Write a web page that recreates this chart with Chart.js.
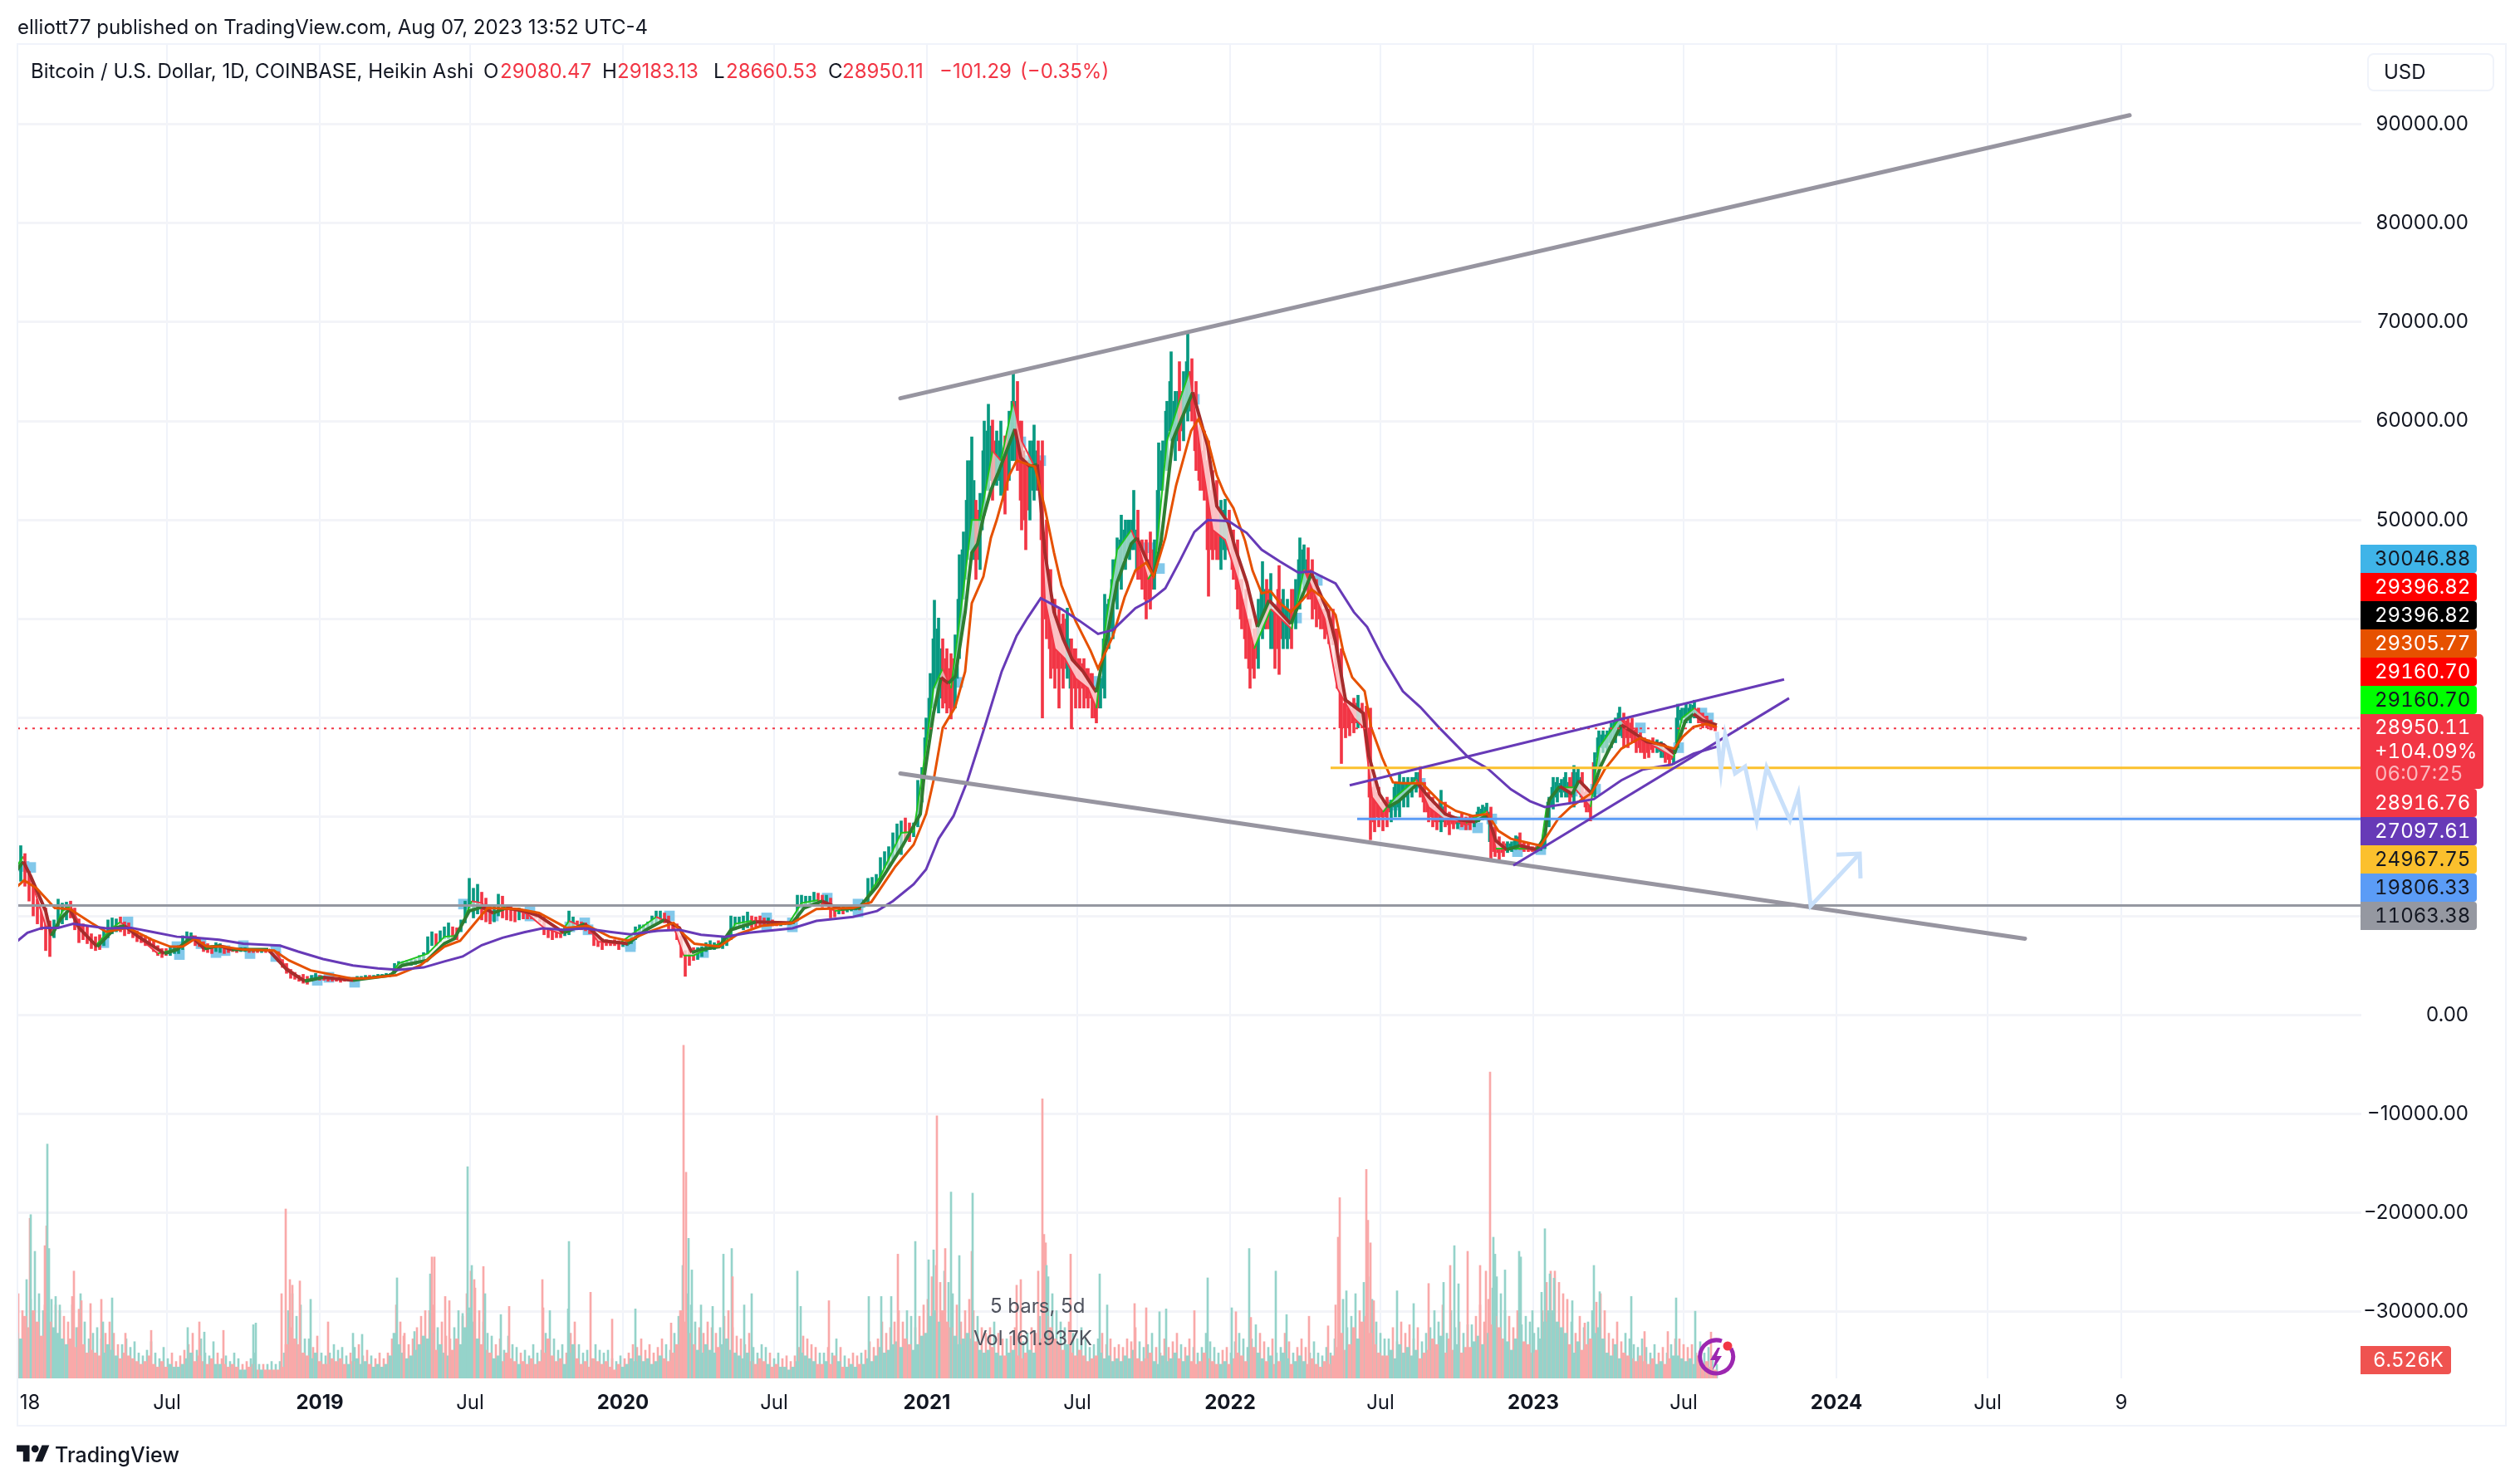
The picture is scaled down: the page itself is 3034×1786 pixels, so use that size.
<!DOCTYPE html>
<html>
<head>
<meta charset="utf-8">
<title>BTCUSD</title>
<script src="https://cdn.jsdelivr.net/npm/chart.js@4"></script>
<style>
  html, body { margin: 0; padding: 0; background: #fff; width: 3034px; height: 1786px; overflow: hidden; }
  body { font-family: Inter, "Noto Sans", sans-serif; color: #131722; position: relative; }
  canvas { position: absolute; left: 0; top: 0; }
  .txt { position: absolute; white-space: nowrap; font-size: 24px; line-height: 30px; }
  .red { color: #f23645; }
  .tag { position: absolute; left: 2842px; width: 140px; height: 34px; line-height: 34px; font-size: 24px; border-radius: 0 4px 4px 0; font-variant-numeric: tabular-nums; }
  .tag span, .big span { position: absolute; left: 17px; }
  #frame { position: absolute; left: 20px; top: 52px; width: 2994px; height: 1662px; border: 2px solid #f0f3fa; }
  #usd { position: absolute; left: 2850px; top: 64px; width: 149px; height: 42px; border: 2px solid #f0f3fa; border-radius: 8px; line-height: 42px; font-size: 24px; }
  #usd span { position: absolute; left: 18px; }
  .big { position: absolute; left: 2842px; top: 860px; width: 148px; height: 90px; background: #f23645; color: #fff; border-radius: 0 5px 5px 0; font-size: 24px; font-variant-numeric: tabular-nums; }
  .big span { line-height: 28px; }
</style>
</head>
<body>
<canvas id="chart" width="3034" height="1786"></canvas>
<div id="frame"></div>
<div id="usd"><span>USD</span></div>
<div id="overlay"></div>
<svg style="position:absolute;left:2040px;top:1608px" width="54" height="54" viewBox="0 0 54 54">
  <path d="M33 7 A20 20 0 1 0 44 16" fill="none" stroke="#9c27b0" stroke-width="5"/>
  <path d="M28 15 L19 30 H25 L22 42 L33 25 H27 L31 15 Z" fill="#9c27b0"/>
  <circle cx="40" cy="13" r="5.5" fill="#f23645"/>
</svg>
<svg style="position:absolute;left:20px;top:1736px" width="40" height="31" viewBox="0 0 36 28">
  <path d="M14 22H7V11H0V4h14v18zM28 22h-8l7.5-18h8L28 22z" fill="#131722"/><circle cx="20" cy="8" r="4" fill="#131722"/>
</svg>
<script>
// candles, one every 5 days (10 per row = 50 days), thousands of USD
const candleLow = [
  12.8,13.5,13,11.5,10,9.2,8.6,6.5,5.9,7.8,
  8.8,9.2,9.6,9.8,8.6,7.3,7.6,7.2,6.7,6.5,
  6.6,7,7.8,8.2,8.4,8.4,8,8.2,7.8,7.4,
  7.3,7,7.1,6.4,6,5.8,6,6,6.2,6.2,
  6.6,7.2,7.4,7,6.9,6.4,6.3,6.2,6.4,6.3,
  6.2,6.3,6.4,6.3,6.4,6.4,6.3,6.3,6.3,6.3,
  6.3,6.3,6.2,5.4,4.8,4.2,3.7,3.6,3.4,3.2,
  3.1,3.4,3.6,3.5,3.5,3.4,3.4,3.4,3.3,3.4,
  3.4,3.4,3.6,3.7,3.8,3.8,3.8,3.9,3.9,3.9,
  4,4.2,4.8,4.9,5,5,5.1,5.3,5.6,6.2,
  7,7,7.4,7.7,7.7,7.6,7.6,8.4,9.3,10.5,
  9.8,10.2,9.6,9.4,9.2,9.4,10,9.8,9.6,9.5,
  9.4,9.6,9.7,9.7,9.7,9.8,9.4,8.1,7.8,7.6,
  7.8,7.8,8,8.1,8.8,8.7,8.6,8.5,8.2,7,
  6.9,6.6,7,7,7,6.6,6.9,7,7.2,7.6,
  8.1,8.3,8.6,9,9.3,9.5,9.3,8.7,8.5,7.6,
  5.8,3.9,5,5.5,5.6,5.9,6.4,6.6,6.6,6.8,
  6.7,7,7.6,8.6,8.8,8.6,8.8,8.8,8.9,9,
  9,9.1,9,9,9,9.1,9.1,9.2,9.5,10.8,
  10.9,11,11.2,11.1,10.9,11,9.8,9.9,10.2,10.2,
  10.4,10.5,10.6,10.6,10.9,11.3,12.6,13,13.6,14.8,
  15,15.5,16.3,16.2,17.6,17.5,18,19,21.5,26,
  29,33,30.5,31,30.5,29.9,31,36,42,46,
  46,44,45,50.5,53,52,53.5,52.5,50.6,54,
  56,55,49,47,50,52,53,30,38,34,
  33,31,33,34,28.9,31,31,31,31,30,
  29.5,31,32,37,38,41,43,45,46,47,
  44,43,40,41,43,47,53,55,58,56,
  57,58,60,60,55,53,52,42.3,46,46,
  45,46,47,44,41,39,36,33,34,35,
  38,39,37,35,34.4,37,37,37,39,41,
  43,42,40,39.2,39,38,37.5,37.4,33,25.4,
  28,28.2,28.5,29,29,28,17.7,18.5,19,18.6,
  19,19.5,20,20,21,21,22,22.5,22,20.5,
  19.5,19,18.7,18.5,19,18.2,18.8,18.8,19,18.7,
  18.7,19,19.5,19.7,19.8,15.8,16,15.7,16,16.4,
  16.5,16.7,16.7,16.5,16.5,16.5,16.5,16.6,16.8,19,
  20.8,21.5,22,22,21.5,21,22.5,21.5,20.5,19.6,
  22,25,26.5,26.5,27,27.5,28.2,27,27,27.5,
  26.5,26.5,25.9,26,26.5,26.5,26,25.5,25.3,25.3,
  27,29.5,29.5,29.5,30,29.5,29,29,28.8,28.7
]
const candleHigh = [
  15.2,17.1,16.3,14.5,13.2,11.7,11,10.8,9.5,9.6,
  11.7,11.3,11.4,11.5,10.8,9.7,9.2,8.9,8.2,7.9,
  8.1,8.6,9.6,9.8,9.7,9.9,9.4,9.3,8.8,8.5,
  8.1,8,7.8,7.5,7,6.7,6.7,6.8,6.9,7,
  8,8.4,8.3,8,7.8,7.4,7.2,7,7.3,7.2,
  7,6.9,6.8,6.7,6.8,6.8,6.7,6.6,6.7,6.6,
  6.6,6.6,6.5,6.4,5.6,5.2,4.6,4.3,4,4.1,
  3.9,4,4.2,4,3.9,3.8,3.7,3.7,3.6,3.6,
  3.8,3.7,3.9,3.9,4,4,4,4.1,4.1,4.2,
  4.2,5.2,5.4,5.4,5.5,5.6,5.6,6,6.3,7.9,
  8.4,8.2,8.5,8.9,9.3,8.9,8.8,9.6,11.5,13.8,
  12.8,13.2,12.4,11.8,10.9,11,12.2,12,10.8,10.9,
  10.6,10.8,10.5,10.4,10.3,10.3,10.3,9.9,8.7,8.5,
  8.6,8.5,8.9,10.5,9.9,9.5,9.4,9.3,8.8,8.5,
  7.9,7.7,7.6,7.5,7.6,7.5,7.4,7.7,8.1,8.9,
  9.1,9.1,9.4,10,10.5,10.5,10.3,10,9.2,9.2,
  8,6.5,6.6,6.8,6.8,6.9,7.3,7.5,7.3,7.5,
  7.9,8,10,9.9,9.9,10,10.4,10,9.9,10,
  9.8,9.8,9.6,9.4,9.4,9.4,9.4,9.6,12.1,12.1,
  12,12,12.4,12.3,12.1,12.1,11.8,10.9,10.9,10.9,
  10.8,11.1,11,11,11.6,13.8,13.9,14.2,15.9,16.5,
  17,18.4,19.3,19.6,19.9,19.4,19.4,23.7,25,30,
  34.5,41.9,40.1,38,37,36.5,38.4,46.5,48.8,56,
  58.4,52,52.7,60,61.7,60.1,59,60,58.5,61,
  64.9,64,60,56,58,59.6,58,58,50,45,
  42,41,40.5,41.1,38,37,36,36,35,34.5,
  33,34,42.5,42,46,48.2,50.5,50,50,53,
  51,48,48,48.8,48,57.8,58,62,67,63,
  66,65,69,66.3,64,60,59,58,55,54,
  52,52.1,51,49,48,44,43,40,39,42,
  45.8,44,44.6,41,45.4,43,42,43,44,48.2,
  47.5,47.2,46,44,42,41,41,41,39,37,
  32,31.5,32,32.3,31.5,31.2,31,24,23,21.7,
  22,21.7,23.5,24.5,24,24,24,24.5,25.1,23.5,
  22.5,22,21,22.7,21.5,20.5,20,20,20.3,20,
  20.2,20,21,21.2,21.4,21,19,18,17.5,17.5,
  17.5,18.1,18.4,17.5,17.3,17,17,17.2,19,22,
  24,24,23.8,24.5,24,25.2,25,24.5,23,22.5,
  26.5,28.7,28.7,28.7,29.5,30,31.1,30.5,30,30,
  29,28.5,28,27.8,28,27.8,27.6,27,27,27,
  31.4,31,31.4,31.4,31.8,31,30.5,30.2,29.8,29.2
]
const candleUp = [
  1,1,0,0,0,0,0,0,0,1, 1,1,1,0,0,0,0,0,0,0, 0,1,1,1,1,0,0,0,0,0, 0,0,0,0,0,0,0,1,1,1,
  1,1,1,0,0,0,0,0,1,1, 0,0,0,0,1,1,0,0,0,1, 0,0,0,0,0,0,0,0,0,0, 0,1,1,0,0,0,0,0,0,0,
  1,0,1,1,1,0,1,1,1,1, 1,1,1,1,1,1,1,1,1,1, 1,0,1,1,1,0,0,1,1,1, 1,1,0,0,0,1,1,0,0,0,
  0,1,0,0,0,0,0,0,0,0, 0,0,1,1,1,0,0,0,0,0, 0,0,0,0,0,0,1,1,1,1, 1,1,1,1,1,1,0,0,0,0,
  0,0,0,0,1,1,1,1,1,0, 1,1,1,1,1,1,1,0,0,0, 0,1,0,0,1,1,1,1,1,1, 1,1,1,0,0,1,0,0,1,0,
  1,1,1,0,1,1,1,1,1,1, 1,1,1,1,0,0,1,1,1,1, 1,1,1,0,0,0,1,1,1,1, 1,0,1,1,1,0,1,1,0,1,
  1,0,0,0,1,1,0,0,0,0, 0,0,0,1,0,0,0,0,0,0, 0,1,1,1,1,1,1,1,1,1, 0,0,0,0,1,1,1,1,1,1,
  0,1,1,0,0,0,0,0,0,0, 1,1,0,0,0,0,0,0,0,1, 1,0,1,0,0,1,1,0,1,1, 1,0,0,0,0,0,0,0,0,0,
  0,0,0,1,0,0,0,0,0,0, 0,1,1,1,1,1,1,1,0,0, 0,0,0,1,0,0,0,1,0,0, 0,1,1,1,1,0,0,0,0,1,
  1,1,0,0,0,0,0,1,1,1, 1,1,1,1,0,1,1,0,0,0, 1,1,1,1,1,1,1,0,0,0, 0,0,0,0,0,1,1,0,0,1,
  1,1,1,1,1,0,0,0,0,0
]
// in-between candles from 2021 on, where the bars stand solid: day 1093, 1098, ...
const denseLow = [
  24,28,31,32,32,31.5,31,31,34,39, 44,47,46,46,49,53,54,54,54,52,
  53,56,56,52,50,51,53,53,48,40, 37,35,35,35,35,33,33,33,33,32,
  32,30,31,33,38,39,42,44,46,47, 47,45,44,42,42,43,47,53,56,59,
  58,58,59,61,61,57,54,53,47,47, 47,46,47,47,45,43,40,38,35,35,
  36,39,39,39,37,37,38,38,38,40, 42,44,43,42,41,40,39,38.5,38,35,
  29,29,29,29.5,29.5,29.5,29,22,19.5,20, 20,20,20.5,21,21,22,22,22.5,23,23,
  21.5,20.5,20,19.5,19.5,19.5,19.2,19.3,19.3,19.3, 19.2,19.2,19.5,19.7,20,20,17.5,16.5,16.4,16.4,
  16.6,16.8,16.8,17,16.7,16.7,16.6,16.6,16.7,16.9, 19.5,21,22,22.5,22.5,22,22,23,22,21,
  20.5,23,26,27,27,27.5,28,28.5,28,28, 28,27.5,27,26.5,26.5,26.8,27,26.6,26,25.8,
  25.8,27.5,29.8,30,30,30.3,30,29.5,29.3,29.1, 29
]
const denseHigh = [
  28,32,38,39,37,36,35,36,42,47, 52,56,54,51,57,59,59.5,58,58,57,
  59,62,62,60,57,56,58,57,56,48, 45,42,40,39.5,40,38,37,36,35.5,35,
  34.5,33,34,38,41.5,44,46,48,49,50, 50,49,47,46,46,47,53,57,61,64,
  62,63,63,66,65,62,59,57,56,53, 52,51,51,50,48,47,44,42,40,38,
  40,43,43,43,41,43,42,41,41,43, 46,47,46,45,44,42,41,40.5,40,39,
  35,31.5,31,31,31.5,31,30.5,29,23,22.5, 21.5,21.5,21.5,23,23.5,23.5,23.5,23.5,24,24.5,
  23,22,21.5,21,21.5,21,20.3,20,20,20, 19.9,19.9,20,20.5,20.8,21,20.5,18.5,17.5,17.2,
  17.3,17.3,17.6,18,17.3,17.1,16.9,16.9,17,18.2, 21.5,23,23.5,23.4,24,23.5,24.5,24.5,24,22.5,
  22,25.5,28,28.3,28.3,29,29.6,30.5,30,29.7, 29.5,28.8,28.2,27.8,27.6,27.7,27.6,27.4,26.9,26.8,
  26.7,30,30.8,31,31,31.3,30.8,30.3,30,29.6, 29.3
]
// volume (thousand BTC), same 5 day rows
const volumeBase = [
  16,14,22,18,24,20,15,26,20,18, 16,14,12,14,11,18,12,9,10,9, 8,9,12,10,8,7,9,8,7,6, 5,6,8,5,4,6,4,5,4,4,
  5,7,9,6,8,6,5,7,5,5, 5,4,5,4,3,3,4,5,3,3, 3,3,3,3,4,12,18,14,12,9, 8,7,9,6,5,5,7,6,7,5,
  5,6,7,5,6,5,4,5,4,5, 8,16,12,9,7,8,10,12,15,14, 16,10,12,9,8,10,14,12,18,25, 20,14,12,10,9,7,8,6,9,7,
  6,5,6,5,7,5,6,9,14,8, 6,7,5,9,12,7,5,6,4,7, 6,5,6,4,3,5,4,5,7,6, 8,6,7,5,6,8,7,6,9,12,
  24,20,16,12,10,9,12,10,9,11, 12,14,10,9,8,7,9,6,5,7, 6,5,4,5,4,4,3,4,6,9, 8,7,6,5,5,6,5,8,6,4,
  4,5,4,5,5,7,6,8,11,9, 10,12,13,11,14,12,10,12,15,16, 22,24,20,24,20,18,15,12,14,16, 14,13,10,9,10,11,9,8,8,9,
  10,8,7,9,10,9,12,14,22,18, 14,12,10,12,9,8,10,8,6,7, 8,9,7,8,6,7,6,8,7,10, 7,6,7,9,6,5,8,6,7,9,
  7,6,8,6,5,6,9,7,6,5, 5,6,5,7,9,8,6,8,11,9, 7,6,8,5,6,9,7,5,6,8, 6,5,7,5,4,6,5,8,11,16,
  10,12,18,14,20,22,16,12,9,8, 8,10,7,12,9,11,8,10,7,9, 10,14,12,15,9,14,10,12,9,11, 11,13,15,12,16,19,22,18,14,13,
  10,14,11,13,12,9,10,14,20,24, 24,20,18,16,12,9,13,10,12,14, 16,18,14,9,8,12,7,9,8,7, 6,8,6,5,7,5,6,5,7,8,
  8,7,6,7,5,8,5,6,4,3
]
// taller thin bars that stand between the base ones, day 2, 7, 12, ...
const volumeMid = [
  30,24,35,28,45,30,24,38,28,26, 24,22,20,26,18,30,20,14,16,18, 14,16,20,16,12,12,14,11,13,9, 8,10,13,9,7,11,7,9,6,8,
  10,12,16,10,14,9,8,13,9,7, 8,6,9,7,5,6,7,9,5,5, 5,6,5,6,9,24,30,22,26,14, 14,11,15,9,8,9,12,10,11,8,
  9,11,12,8,10,8,7,9,7,9, 14,26,20,16,12,14,18,22,24,24, 26,18,20,15,14,18,24,22,30,38, 32,24,20,16,15,12,14,10,15,12,
  11,9,10,8,12,9,10,16,24,14, 10,12,9,16,20,12,9,10,7,12, 10,9,10,7,6,8,7,9,12,11, 14,10,12,9,11,14,12,10,16,22,
  40,30,26,20,18,16,20,18,16,18, 22,24,18,15,14,12,16,11,9,12, 11,9,7,9,7,8,6,8,11,15, 14,12,11,9,9,11,9,14,11,8,
  7,9,8,9,10,13,11,14,20,16, 18,20,24,20,24,22,18,22,26,28, 36,40,34,38,34,30,26,20,24,28, 24,22,18,16,18,20,16,14,14,15,
  18,14,13,16,18,16,22,25,36,30, 24,20,18,20,16,14,18,14,11,12, 14,16,12,14,11,12,11,14,13,18, 13,11,12,16,11,9,14,11,13,16,
  12,11,14,11,9,11,16,13,11,9, 10,11,9,13,16,14,11,14,19,16, 13,11,14,9,11,16,13,9,11,14, 11,9,13,9,8,11,9,14,20,28,
  18,22,30,24,34,36,28,20,16,14, 14,18,13,20,16,19,14,18,13,16, 18,24,20,26,16,24,18,20,16,19, 19,22,26,20,28,32,36,30,24,22,
  18,24,19,22,20,16,18,24,34,38, 38,34,30,28,20,16,22,18,20,24, 27,30,24,16,14,20,13,16,14,12, 11,14,11,9,12,9,11,9,12,14,
  14,12,11,12,9,13,9,11,8,5
]
const spikeDays = [16,17,34,36,37,39,47,52,67,69,75,78,89,102,104,115,131,162,206,220,226,249,285,288,319,324,329,332,341,354,375,405,416,458,466,479,498,500,503,516,521,537,543,548,551,562,564,583,593,633,634,664,665,691,717,745,788,803,806,809,813,824,838,851,861,862,876,885,940,944,978,1026,1041,1053,1061,1082,1098,1104,1108,1118,1125,1135,1150,1151,1204,1209,1230,1235,1237,1239,1240,1269,1304,1313,1346,1360,1376,1384,1418,1434,1463,1468,1484,1486,1516,1529,1556,1579,1588,1591,1593,1601,1625,1627,1630,1634,1662,1682,1700,1718,1726,1731,1736,1747,1762,1769,1774,1778,1780,1792,1809,1811,1825,1836,1840,1846,1851,1873,1888,1899,1906,1944,1960,1988,1998,2021,2040]
const spikeVols = [56.7,58,47,54,83,46,29,26,29,38,24.5,27.5,26.5,28,20,28.5,16,17,18,20,16.4,17,19,19.6,30,60,35,33,34.5,28,20,16,15.6,35.6,15,16.6,37,43,43,29,27.5,23,75,40,35,39.6,30,22.6,25.5,35,25,24.6,48.5,30.5,21,24.6,19.6,118,73,49.6,38.4,26,25.5,44,46,36,26,30,38,25.5,27.5,29,29,29,44,48.5,42,45.5,93,46,66,43.5,45,65.6,33,35,38,99,51,48,40,44,37,26,26.5,25,23.6,24.6,24,35.6,25,23.6,46,21.6,38,22.6,22,18.6,26,50,64,31,74,56,48,27.5,31,26.5,33.6,34,40,47,33.5,45,40,38,108.5,50,44,38.4,45,43,24,30.5,53,37,35.5,27.5,19.6,40,30.7,29,16.6,16.6,28.5,23.8,16.4]
const spikeUp = [0,1,0,0,1,1,1,1,0,0,0,0,0,0,1,1,0,0,1,0,1,0,1,1,0,0,0,0,0,1,0,1,1,1,0,1,1,0,0,0,0,1,1,1,0,0,1,1,0,0,0,1,1,0,0,1,0,0,0,1,1,1,1,1,1,0,1,1,1,1,0,1,1,1,0,1,1,1,0,0,1,1,0,1,0,0,0,0,0,0,1,0,1,1,0,0,1,1,0,1,1,0,1,0,1,1,0,0,0,0,0,1,0,0,0,0,1,1,0,1,0,1,1,0,0,0,0,1,1,1,1,1,1,1,1,1,1,1,0,1,1,1,0,0,1,1,0]

// fast moving average (thick, green rising / brown falling)
const thickDays = [0,8,17,35,42,53,64,75,97,119,130,145,178,193,211,226,244,259,303,325,347,369,405,450,464,494,515,527,545,560,574,589,611,629,659,684,706,736,758,780,798,813,824,846,860,890,934,948,970,992,1014,1036,1066,1088,1092,1104,1113,1122,1130,1142,1150,1157,1164,1173,1182,1202,1209,1220,1229,1238,1249,1260,1271,1284,1300,1313,1325,1342,1349,1369,1378,1392,1407,1416,1434,1445,1459,1467,1481,1494,1508,1521,1534,1559,1579,1588,1600,1621,1628,1641,1651,1664,1687,1697,1720,1738,1756,1771,1781,1794,1810,1830,1840,1845,1858,1873,1881,1896,1907,1917,1932,1947,1963,1983,1996,2009,2019,2029,2047]
const thickVals = [14.6,15.5,14,10.5,8,9.7,10.7,8.8,6.9,8.8,9,8,6.2,6.6,7.9,6.7,7,6.6,6.6,4.6,3.4,3.8,3.5,4,5,5.5,7.2,7.7,10.5,10.9,10.3,10.8,10.5,10,8.3,9.2,7.5,7.2,8.6,9.6,8.8,6.3,6.6,6.9,8.6,9.4,9.3,10.8,11.5,10.7,10.8,13,17,20.3,23.7,30.5,34.1,33.5,34.2,40.7,46.7,47.6,50.3,53,54.8,59.2,56.3,55.4,55.6,46.7,40.7,38,35.9,34.7,32.6,38.3,43.7,47.6,48.2,44.3,47.9,58.1,61.1,62.9,57.5,51.4,49.7,47.2,43.7,39.2,41.9,40.7,39.5,44.6,40.7,37.7,31.8,30.5,26.2,22.3,21,21.6,23.4,22.3,20.3,19.7,19.5,20.2,17.6,16.7,17.1,16.7,18,21.7,23.1,22.3,23.7,22.4,25.1,26.8,29.3,28.5,27.6,27.3,26.4,29.7,30.4,29.8,29.3]
// faster thin line, ribbon to the thick one
const fastDays = [0,8,20,35,45,55,65,80,95,115,125,140,170,195,212,225,244,260,310,325,345,370,405,450,460,495,515,530,548,560,574,589,615,635,655,665,690,700,725,745,770,790,803,815,840,855,865,885,930,945,965,985,1015,1040,1065,1080,1090,1104,1115,1125,1140,1150,1160,1175,1185,1200,1210,1222,1232,1238,1250,1262,1275,1290,1300,1312,1325,1342,1352,1362,1370,1385,1400,1412,1425,1440,1455,1470,1490,1510,1535,1550,1560,1575,1590,1610,1622,1632,1645,1660,1685,1700,1720,1745,1770,1781,1800,1835,1842,1855,1875,1895,1905,1930,1950,1975,1995,2005,2020,2047]
const fastVals = [15,16,13,9,8.5,10.5,11,8.5,7,8.8,9.4,8.3,6.2,6.7,8,6.9,7,6.6,6.5,4.8,3.5,3.8,3.5,4,5.2,6.2,7.9,8,11.5,11.3,10.2,11,10.2,8.8,8.2,9.5,8.6,7.4,7.2,8.4,9.9,9.2,6,6,7,7.5,9.2,9.5,9.3,11.3,11.6,10.5,10.8,14,18.4,18.5,24,33,35,33,43,50,50,57,56,62,58,56,54,42,37,36,34,33,31,40,47,49,47,44,45,58,62,65,57,49,48,44,37,41,39,45,43,40,33,30,29,22,20.5,22,23.8,21,19.7,19.4,20.6,16.8,16.8,16.8,21,23,23,21,27,30,28,27,26,30,31,29]
// orange average
const orangeDays = [0,9,24,46,64,90,108,134,163,185,200,215,229,248,273,310,328,354,402,420,457,486,515,534,549,567,604,629,662,688,714,736,758,791,805,816,846,868,897,934,963,1007,1029,1058,1080,1095,1104,1115,1130,1142,1150,1164,1173,1180,1195,1204,1226,1238,1249,1258,1275,1293,1302,1320,1334,1347,1360,1369,1383,1396,1414,1423,1434,1445,1454,1465,1479,1488,1499,1510,1521,1534,1548,1559,1572,1588,1597,1608,1623,1631,1644,1657,1669,1692,1713,1733,1753,1771,1784,1799,1835,1845,1856,1871,1896,1912,1932,1955,1978,1996,2006,2019,2034,2047]
const orangeVals = [12.9,13.6,12.8,10.8,10.7,9.3,8.4,8.8,7.6,6.9,6.9,7.7,6.9,6.9,6.6,6.5,5.5,4.5,3.7,3.7,4,5,6.9,7.5,9,10.8,10.7,10.3,8.8,9,7.9,7.5,8.3,9.3,8,7.2,6.9,8.15,9,9.3,10.7,10.8,11.4,15,17.2,20.3,23.7,29,31.1,34.7,41.6,44.3,48.2,50,54.5,56,55.4,51.2,46.7,43.4,39.8,36.8,35,38.3,42.2,44.9,45.7,44.3,48.2,53.5,59,60.2,58.1,54.5,52.7,51.2,47.9,44.9,42.6,42.8,41.6,40.7,41.9,43,42.2,40.4,36.8,34.1,32.7,29,26,23.5,23.4,23.4,21.6,20.6,20.1,20.3,18.6,17.8,17.1,18.4,19.8,21,22.4,24.8,26.9,28,27.3,26.9,28.1,29.1,29.4,29.1]
// slow purple average
const purpleDays = [0,13,31,50,68,86,108,138,163,193,215,244,273,317,339,369,405,435,460,490,515,537,560,585,611,633,659,684,714,739,772,798,824,853,882,934,963,1007,1036,1055,1080,1095,1110,1128,1145,1164,1186,1204,1217,1233,1258,1280,1302,1320,1347,1365,1383,1400,1418,1434,1459,1481,1499,1521,1543,1559,1588,1610,1626,1646,1669,1690,1713,1748,1771,1799,1822,1840,1871,1899,1932,1958,1993,2019,2047]
const purpleVals = [7.4,8.3,8.8,8.8,9.2,9,8.75,8.8,8.4,7.9,7.8,7.6,7.2,7,6.4,5.65,5,4.7,4.55,4.8,5.4,5.9,7.05,7.8,8.35,8.75,8.6,8.75,8.4,8.15,8.5,8.6,8.1,7.9,8.3,8.75,9.5,9.9,10.5,11.5,13.2,14.7,17.8,20.1,23.7,28.7,34.7,38.3,40.1,42.1,41,39.8,38.5,38.9,41.1,41.9,43.1,45.8,48.8,50,49.9,48.7,47,45.8,44.7,44.8,43.6,40.7,39.2,35.9,32.7,31.1,29,26,24.9,22.8,21.6,21,21.4,21.8,23.7,24.8,25.3,26.4,27.1]
// light blue square markers
const squareDays = [9,17,105,134,193,196,222,240,251,273,281,312,312,362,376,407,538,574,618,618,666,684,688,739,739,786,827,903,903,934,934,976,1013,1013,1117,1133,1209,1220,1233,1302,1363,1376,1418,1503,1521,1541,1566,1657,1690,1715,1743,1759,1776,1807,1835,1873,1901,1955,2001,2029,2037]
const squareVals = [15,14.9,7.3,9.4,6.9,6.1,7.2,6.3,6.5,7,6.2,6.6,5.9,3.5,3.8,3.3,11.2,10,10.5,10,8.9,9.3,8.6,7.2,6.9,10,6.3,9.8,9.1,9.3,8.9,11.8,11.2,10.4,33.4,33.6,57.9,56,56,33.7,47.2,45.1,62.2,40.1,41,40.1,43.9,21.2,23.4,20.6,19.2,18.9,19.8,16.5,16.7,22.6,22.8,29,27,30.5,30]

// drawings
const upperChannelDays = [1064,2544], upperChannelVals = [62.3,90.9]
const lowerChannelDays = [1064,2418], lowerChannelVals = [24.4,7.7]
const wedgeTopDays = [1605,2128], wedgeTopVals = [23.2,33.9]
const wedgeBottomDays = [1802,2134], wedgeBottomVals = [15.1,32]
const forecastDays = [2047,2052,2057,2069,2081,2095,2107,2135,2145,2160,2219]
const forecastVals = [28.6,24.7,28.3,24.4,25.1,19.6,25,19.7,22.3,11,16.3]
const arrowHeadDays = [2191,2219,2220], arrowHeadVals = [16.2,16.3,13.8]
const yellowDays = [1582,2823], yellowVal = 24.96775
const blueDays = [1614,2823], blueVal = 19.80633
const greyDays = [1,2823], greyVal = 11.06338
const lastDays = [1,2823], lastVal = 28.95011

// axes
const priceTicks = [-30,-20,-10,0,10,20,30,40,50,60,70,80,90]
const timeTickDays = [16,181,365,546,730,912,1096,1277,1461,1642,1826,2007,2191,2373,2534]
const timeTickLabels = ['18','Jul','2019','Jul','2020','Jul','2021','Jul','2022','Jul','2023','Jul','2024','Jul','9']

// price scale tags
const tagLabels = ['30046.88','29396.82','29396.82','29305.77','29160.70','29160.70','28916.76','27097.61','24967.75','19806.33','11063.38']
const tagColors = ['#3fb4e8','#ff0000','#000000','#e65100','#ff0000','#00ff00','#f23645','#673ab7','#fbc02d','#5b9cf6','#9598a1']
const tagText = ['#131722','#fff','#fff','#fff','#fff','#131722','#fff','#fff','#131722','#131722','#131722']
const tagTops = [656,690,724,758,792,826,950,984,1018,1052,1086]

const GREEN = '#089981', RED = '#f23645', TEAL_VOL = '#95d3ca', PINK_VOL = '#f9a9a9'
const pts = (xs, ys) => xs.map((x, i) => ({ x, y: ys[i] }))
const hline = (xs, v) => xs.map(x => ({ x, y: v }))
const line = (data, color, width, order, extra) => Object.assign({
  type: 'line', data, borderColor: color, borderWidth: width, order, pointRadius: 0, yAxisID: 'y', tension: 0
}, extra)

const candleBars = candleLow.map((lo, i) => ({ x: i * 5, y: [lo, candleHigh[i]] }))
const denseBars = denseLow.map((lo, i) => ({ x: 1093 + i * 5, y: [lo, denseHigh[i]] }))
const baseBars = volumeBase.map((v, i) => ({ x: i * 5, y: v }))
const midBars = volumeMid.map((v, i) => ({ x: i * 5 + 2, y: v }))

new Chart(document.getElementById('chart').getContext('2d'), {
  type: 'bar',
  data: {
    datasets: [
      { data: midBars, backgroundColor: candleUp.map(u => u ? PINK_VOL : TEAL_VOL), barThickness: 2, yAxisID: 'y2', order: 31, grouped: false },
      { data: baseBars, backgroundColor: candleUp.map(u => u ? TEAL_VOL : PINK_VOL), barThickness: 4, yAxisID: 'y2', order: 30, grouped: false },
      { data: pts(spikeDays, spikeVols), backgroundColor: spikeUp.map(u => u ? TEAL_VOL : PINK_VOL), barThickness: 2, yAxisID: 'y2', order: 29, grouped: false },
      line(pts(squareDays, squareVals), 'transparent', 0, 26, { showLine: false, pointStyle: 'rect', pointRadius: 9, pointBackgroundColor: '#82c8ea', pointBorderWidth: 0 }),
      { data: denseBars, backgroundColor: denseBars.map(b => candleUp[Math.floor(b.x / 5)] ? GREEN : RED), barThickness: 2, yAxisID: 'y', order: 25, grouped: false },
      { data: candleBars, backgroundColor: candleUp.map(u => u ? GREEN : RED), barThickness: 3, yAxisID: 'y', order: 24, grouped: false },
      line(pts(fastDays, fastVals), '#00c853', 2, 21, {
        fill: { target: '+1', above: 'rgba(232,245,233,.6)', below: 'rgba(252,228,226,.8)' },
        segment: { borderColor: c => c.p1.parsed.y >= c.p0.parsed.y ? '#1fc41f' : '#f23645' }
      }),
      line(pts(thickDays, thickVals), '#2e7d32', 4, 20, {
        segment: { borderColor: c => c.p1.parsed.y >= c.p0.parsed.y ? '#2e7d32' : '#a62c2c' }
      }),
      line(pts(orangeDays, orangeVals), '#e65100', 3, 19),
      line(pts(purpleDays, purpleVals), '#673ab7', 3, 18),
      line(hline(greyDays, greyVal), '#9598a1', 3, 12),
      line(hline(lastDays, lastVal), RED, 2, 11, { borderDash: [3, 6] }),
      line(hline(yellowDays, yellowVal), '#fbc02d', 3, 10),
      line(hline(blueDays, blueVal), '#5b9cf6', 3, 10),
      line(pts(upperChannelDays, upperChannelVals), '#9795a0', 5, 8, { borderCapStyle: 'round' }),
      line(pts(lowerChannelDays, lowerChannelVals), '#9795a0', 5, 8, { borderCapStyle: 'round' }),
      line(pts(wedgeTopDays, wedgeTopVals), '#673ab7', 3, 7),
      line(pts(wedgeBottomDays, wedgeBottomVals), '#673ab7', 3, 7),
      line(pts(forecastDays, forecastVals), '#c9e0fa', 5, 6),
      line(pts(arrowHeadDays, arrowHeadVals), '#c9e0fa', 5, 6)
    ]
  },
  options: {
    responsive: false,
    devicePixelRatio: 1,
    animation: false,
    layout: { padding: { left: 21, top: 54, right: 62, bottom: 71 } },
    plugins: { legend: { display: false }, tooltip: { enabled: false } },
    scales: {
      x: {
        type: 'linear', min: 1, max: 2823, offset: false,
        border: { display: false },
        grid: { offset: false, drawTicks: false, lineWidth: 2, color: c => c.index === 0 ? 'transparent' : '#f0f3fa' },
        afterBuildTicks: s => { s.ticks = timeTickDays.map(value => ({ value })) },
        afterFit: s => { s.height = 55 },
        ticks: {
          autoSkip: false, maxRotation: 0, padding: 15, color: '#131722',
          font: c => /^20/.test(timeTickLabels[c.index]) ? { family: 'Inter', size: 24, weight: '700' } : { family: 'Inter', size: 24 },
          callback: (v, i) => timeTickLabels[i]
        }
      },
      y: {
        type: 'linear', position: 'right', min: -36.72, max: 98.01,
        border: { display: false },
        grid: { drawTicks: false, lineWidth: 3, color: '#f3f4f8' },
        afterBuildTicks: s => { s.ticks = priceTicks.map(value => ({ value })) },
        afterFit: s => { s.width = 129 },
        ticks: {
          crossAlign: 'far', padding: 0, color: '#131722', font: { family: 'Inter', size: 24 },
          callback: v => (v < 0 ? '\u2212' : '') + Math.abs(v * 1000).toFixed(2)
        }
      },
      y2: { type: 'linear', display: false, min: 0, max: 472.3 }
    }
  }
})

// header, legend, tags as real text
const overlay = document.getElementById('overlay')
const addText = (html, left, top, cls, style) => {
  const el = document.createElement('div')
  el.className = 'txt ' + (cls || '')
  el.style.left = left + 'px'
  el.style.top = top + 'px'
  if (style) el.style.cssText += style
  el.textContent = html
  overlay.appendChild(el)
}
addText('elliott77 published on TradingView.com, Aug 07, 2023 13:52 UTC-4', 21, 18)
addText('Bitcoin / U.S. Dollar, 1D, COINBASE, Heikin Ashi', 37, 71)
const legendLabels = ['O', 'H', 'L', 'C'], legendLabelX = [582, 725, 859, 997]
const legendVals = ['29080.47', '29183.13', '28660.53', '28950.11'], legendValX = [602, 743, 874, 1014]
legendLabels.forEach((t, i) => addText(t, legendLabelX[i], 71))
legendVals.forEach((t, i) => addText(t, legendValX[i], 71, 'red'))
addText('\u2212101.29', 1131, 71, 'red')
addText('(\u22120.35%)', 1228, 71, 'red')
addText('5 bars, 5d', 1192, 1558, '', 'color:#50535e')
addText('Vol 161.937K', 1172, 1597, '', 'color:#50535e')
addText('TradingView', 66, 1737, '', 'font-size:25px;font-weight:500')

tagLabels.forEach((t, i) => {
  const el = document.createElement('div')
  el.className = 'tag'
  el.style.top = tagTops[i] + 'px'
  el.style.background = tagColors[i]
  el.style.color = tagText[i]
  el.innerHTML = '<span>' + t + '</span>'
  overlay.appendChild(el)
})
const big = document.createElement('div')
big.className = 'big'
big.innerHTML = '<span style="top:2px">28950.11</span><span style="top:31px">+104.09%</span><span style="top:58px;color:rgba(255,255,255,.65)">06:07:25</span>'
overlay.appendChild(big)
const volTag = document.createElement('div')
volTag.className = 'tag'
volTag.style.cssText = 'top:1621px;width:109px;background:#ef5350;color:#fff'
volTag.innerHTML = '<span style="left:15px">6.526K</span>'
overlay.appendChild(volTag)
</script>
</body>
</html>
